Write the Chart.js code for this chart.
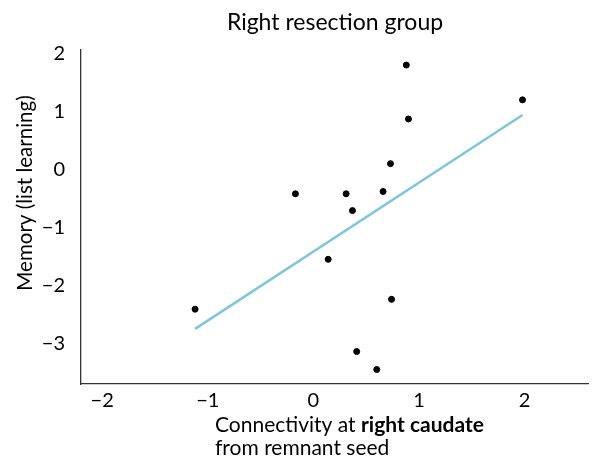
<!DOCTYPE html>
<html>
<head>
<meta charset="utf-8">
<script src="https://cdn.jsdelivr.net/npm/chart.js@4.4.0/dist/chart.umd.min.js"></script>
<style>
  html, body { margin: 0; padding: 0; background: #fff; overflow: hidden; }
  canvas { display: block; }
</style>
</head>
<body>
<canvas id="myChart" width="592" height="460"></canvas>
<script>
// scatter values
const connectivity = [0.88, 1.98, 0.90, 0.73, -0.17, 0.31, 0.66, 0.37, 0.14, -1.12, 0.74, 0.41, 0.60]
const memory = [1.80, 1.20, 0.87, 0.10, -0.42, -0.42, -0.38, -0.71, -1.55, -2.41, -2.24, -3.14, -3.45]

// fitted line ends
const fitX = [-1.12, 1.98]
const fitY = [-2.75, 0.94]

const xTicks = [-2, -1, 0, 1, 2]
const yTicks = [2, 1, 0, -1, -2, -3]

const TITLE = 'Right resection group'
const Y_TITLE = 'Memory (list learning)'
const X_TITLE_PLAIN = 'Connectivity at '
const X_TITLE_BOLD = 'right caudate'
const X_TITLE_2 = 'from remnant seed'

const FONT = 'Lato, "Open Sans", sans-serif'
const minus = (v) => (v < 0 ? '\u2212' + Math.abs(v) : String(v))

const textPlugin = {
  id: 'texts',
  afterDraw(chart) {
    const ctx = chart.ctx
    ctx.save()
    ctx.fillStyle = '#000'
    ctx.textBaseline = 'middle'

    // title
    ctx.font = `23px ${FONT}`
    ctx.textAlign = 'center'
    ctx.fillText(TITLE, 335, 23)

    // x title, two lines, left aligned, part of line one bold
    ctx.textAlign = 'left'
    ctx.font = `21px ${FONT}`
    ctx.fillText(X_TITLE_PLAIN, 215, 425)
    const w = ctx.measureText(X_TITLE_PLAIN).width
    ctx.font = `bold 21px ${FONT}`
    ctx.fillText(X_TITLE_BOLD, 215 + w, 425)
    ctx.font = `21px ${FONT}`
    ctx.fillText(X_TITLE_2, 215, 448)

    // y title
    ctx.translate(25, 193)
    ctx.rotate(-Math.PI / 2)
    ctx.textAlign = 'center'
    ctx.font = `20.5px ${FONT}`
    ctx.fillText(Y_TITLE, 0, 0)
    ctx.restore()
  }
}

const ctx = document.getElementById('myChart').getContext('2d')
new Chart(ctx, {
  type: 'scatter',
  data: {
    datasets: [
      {
        type: 'line',
        data: fitX.map((x, i) => ({ x, y: fitY[i] })),
        borderColor: '#7fc6db',
        borderWidth: 2.5,
        pointRadius: 0,
        fill: false
      },
      {
        data: connectivity.map((x, i) => ({ x, y: memory[i] })),
        backgroundColor: '#000',
        borderColor: '#000',
        pointRadius: 3,
        pointHoverRadius: 3
      }
    ]
  },
  options: {
    responsive: false,
    animation: false,
    layout: { padding: { top: 50, left: 0, right: 0, bottom: 0 } },
    plugins: { legend: { display: false }, tooltip: { enabled: false } },
    scales: {
      x: {
        type: 'linear',
        min: -2.2,
        max: 2.6,
        afterBuildTicks: (s) => { s.ticks = xTicks.map((v) => ({ value: v })) },
        afterFit: (s) => {
          s.height = 76
          s.paddingLeft = 0
          s.paddingRight = 0
        },
        grid: { display: false, drawTicks: false },
        border: { color: '#333', width: 1.3 },
        ticks: {
          color: '#000',
          padding: 5,
          font: { family: FONT, size: 20 },
          callback: (v) => minus(v)
        }
      },
      y: {
        type: 'linear',
        min: -3.7,
        max: 2.06,
        afterBuildTicks: (s) => { s.ticks = yTicks.map((v) => ({ value: v })) },
        afterFit: (s) => {
          s.width = 81
          s.paddingTop = 0
          s.paddingBottom = 0
        },
        grid: { display: false, drawTicks: false },
        border: { color: '#333', width: 1.3 },
        ticks: {
          color: '#000',
          padding: 16,
          font: { family: FONT, size: 20 },
          callback: (v) => minus(v)
        }
      }
    }
  },
  plugins: [textPlugin]
})
</script>
</body>
</html>
